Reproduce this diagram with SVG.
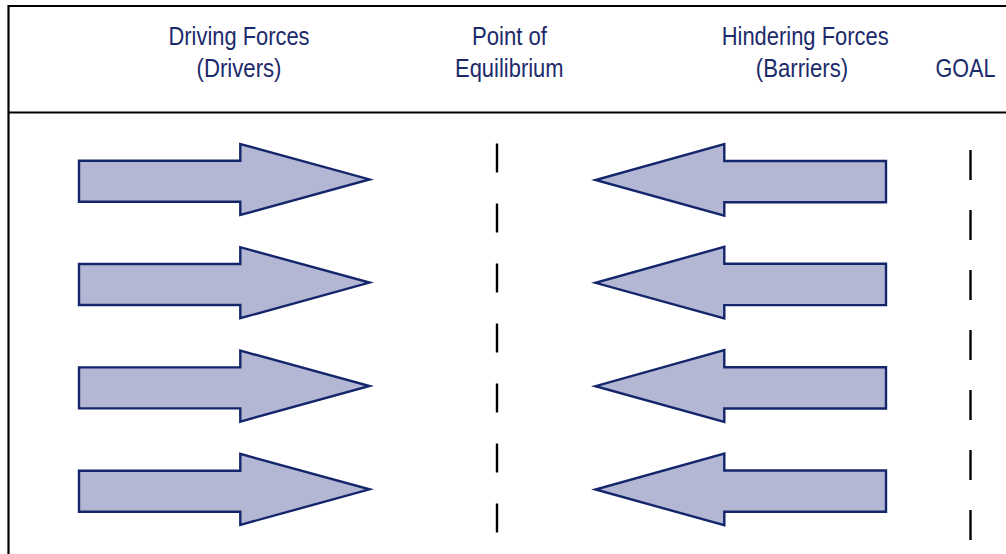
<svg xmlns="http://www.w3.org/2000/svg" width="1006" height="554" viewBox="0 0 1006 554">
<style>
.bg{fill:#ffffff}
.frame{stroke:#000;stroke-width:2.2;fill:none}
.lbl{font-family:"Liberation Sans",Arial,sans-serif;font-size:25px;fill:#1c2a6c;text-anchor:middle}
.arrow{fill:#b4b7d3;stroke:#13266b;stroke-width:2.4;stroke-linejoin:miter}
.dash{stroke:#000;stroke-width:2.4}
</style>
<defs>
<polygon id="rArrow" class="arrow" points="79,-18.6 240.3,-18.6 240.3,-35.4 369.5,0 240.3,35.6 240.3,22.4 79,22.4"/>
<polygon id="lArrow" class="arrow" points="886,-19 724.3,-19 724.3,-36 595.5,0 724.3,35.7 724.3,22.3 886,22.3"/>
</defs>
<rect class="bg" x="0" y="0" width="1006" height="554"/>
<g id="frame">
<line class="frame" x1="8.5" y1="6" x2="1006" y2="6"/>
<line class="frame" x1="8.5" y1="5" x2="8.5" y2="554"/>
<line class="frame" x1="8.5" y1="112.5" x2="1006" y2="112.5"/>
</g>
<g id="header-drivers">
<text class="lbl" x="239" y="45" textLength="141" lengthAdjust="spacingAndGlyphs">Driving Forces</text>
<text class="lbl" x="239" y="77" textLength="85" lengthAdjust="spacingAndGlyphs">(Drivers)</text>
</g>
<g id="header-equilibrium">
<text class="lbl" x="509.5" y="45" textLength="75" lengthAdjust="spacingAndGlyphs">Point of</text>
<text class="lbl" x="509.3" y="77" textLength="108.5" lengthAdjust="spacingAndGlyphs">Equilibrium</text>
</g>
<g id="header-barriers">
<text class="lbl" x="805.2" y="45" textLength="167" lengthAdjust="spacingAndGlyphs">Hindering Forces</text>
<text class="lbl" x="802" y="77" textLength="92.5" lengthAdjust="spacingAndGlyphs">(Barriers)</text>
</g>
<g id="header-goal">
<text class="lbl" x="965.5" y="77" textLength="60" lengthAdjust="spacingAndGlyphs">GOAL</text>
</g>
<g id="driver-1"><use href="#rArrow" transform="translate(0,179.4)"/></g>
<g id="driver-2"><use href="#rArrow" transform="translate(0,282.6)"/></g>
<g id="driver-3"><use href="#rArrow" transform="translate(0,386)"/></g>
<g id="driver-4"><use href="#rArrow" transform="translate(0,489.3)"/></g>
<g id="barrier-1"><use href="#lArrow" transform="translate(0,180)"/></g>
<g id="barrier-2"><use href="#lArrow" transform="translate(0,282.8)"/></g>
<g id="barrier-3"><use href="#lArrow" transform="translate(0,386.2)"/></g>
<g id="barrier-4"><use href="#lArrow" transform="translate(0,489.5)"/></g>
<g id="equilibrium-line">
<line class="dash" x1="497" y1="143.5" x2="497" y2="172.5"/>
<line class="dash" x1="497" y1="203.5" x2="497" y2="232.5"/>
<line class="dash" x1="497" y1="263.5" x2="497" y2="292.5"/>
<line class="dash" x1="497" y1="323.5" x2="497" y2="352.5"/>
<line class="dash" x1="497" y1="383.5" x2="497" y2="412.5"/>
<line class="dash" x1="497" y1="443.5" x2="497" y2="472.5"/>
<line class="dash" x1="497" y1="503.5" x2="497" y2="532.5"/>
</g>
<g id="goal-line">
<line class="dash" x1="970.5" y1="150" x2="970.5" y2="180"/>
<line class="dash" x1="970.5" y1="210" x2="970.5" y2="240"/>
<line class="dash" x1="970.5" y1="270" x2="970.5" y2="300"/>
<line class="dash" x1="970.5" y1="330" x2="970.5" y2="360"/>
<line class="dash" x1="970.5" y1="390" x2="970.5" y2="420"/>
<line class="dash" x1="970.5" y1="450" x2="970.5" y2="480"/>
<line class="dash" x1="970.5" y1="510" x2="970.5" y2="540"/>
</g>
<g id="connectors"></g>
</svg>
